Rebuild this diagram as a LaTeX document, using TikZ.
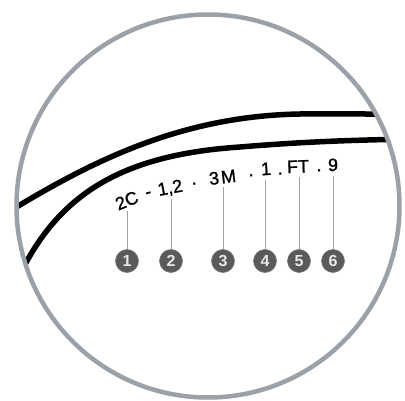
\documentclass[tikz,border=0pt]{standalone}
\usepackage{fontspec}
\setmainfont{Liberation Sans}
\newfontfamily\codefont[FakeBold=1.2]{Liberation Sans}
\begin{document}
\begin{tikzpicture}[x=1pt,y=-1pt,
  ring/.style={draw=ringgray,line width=4.5pt},
  cable/.style={draw=black,line width=5.5pt},
  code/.style={font=\codefont\fontsize{18}{18}\selectfont,text=black,inner sep=0pt,anchor=center,text height=12.9pt,text depth=0pt},
  leader/.style={draw=leadgray,line width=1pt},
  badge/.style={circle,fill=badgegray,draw=badgeedge,line width=0.6pt,minimum size=23pt,inner sep=0pt,text=badgetext,font=\fontsize{16}{16}\selectfont\bfseries}]
\definecolor{ringgray}{HTML}{9BA1A8}
\definecolor{leadgray}{HTML}{A0A0A0}
\definecolor{badgegray}{HTML}{5A5A5A}
\definecolor{badgeedge}{HTML}{7A7A7A}
\definecolor{badgetext}{HTML}{E8E8E8}
\useasboundingbox (0,0) rectangle (405,401);
\fill[white] (0,0) rectangle (405,401);
\begin{scope}
\clip (208,206) circle (191.5);
\draw[cable] (5,214) .. controls (90,162) and (180,116) .. (300,114) .. controls (340,113.5) and (380,114) .. (415,115);
\draw[cable] (15,285) .. controls (55,195) and (120,155) .. (240,147) .. controls (300,142) and (350,140) .. (415,139);
\end{scope}
\draw[ring] (208,206) circle (191.5);
% code text
\node[code,rotate=22] (s1) at (126.7,200.3) {2C};
\node[code,rotate=17] (s2) at (147.8,191.3) {-};
\node[code,rotate=11] (s3) at (170,187.3) {1,2};
\node[code,rotate=10] (s4) at (193.3,178.2) {.};
\node[code,rotate=7] (s5) at (222.5,177) {3\kern2pt M};
\node[code,rotate=5] (s6) at (250.7,169.8) {.};
\node[code,rotate=4] (s7) at (266,168.6) {1};
\node[code,rotate=3] (s8) at (280,168.1) {.};
\node[code,rotate=2] (s9) at (298,166.3) {FT};
\node[code,rotate=1] (s10) at (319,164.8) {.};
\node[code,rotate=1] (s11) at (333,164.6) {9};
% badges
\node[badge] (c1) at (127,261) {1};
\node[badge] (c2) at (171,261) {2};
\node[badge] (c3) at (223,261) {3};
\node[badge] (c4) at (265,261) {4};
\node[badge] (c5) at (299,261) {5};
\node[badge] (c6) at (333,261) {6};
\coordinate (l1) at (127,211);
\coordinate (l2) at (171,199);
\coordinate (l3) at (223,187);
\coordinate (l4) at (265,180);
\coordinate (l5) at (299,177);
\coordinate (l6) at (333,176);
\foreach \i in {1,...,6} {\draw[leader] (l\i) -- (c\i.north);}
\end{tikzpicture}
\end{document}
